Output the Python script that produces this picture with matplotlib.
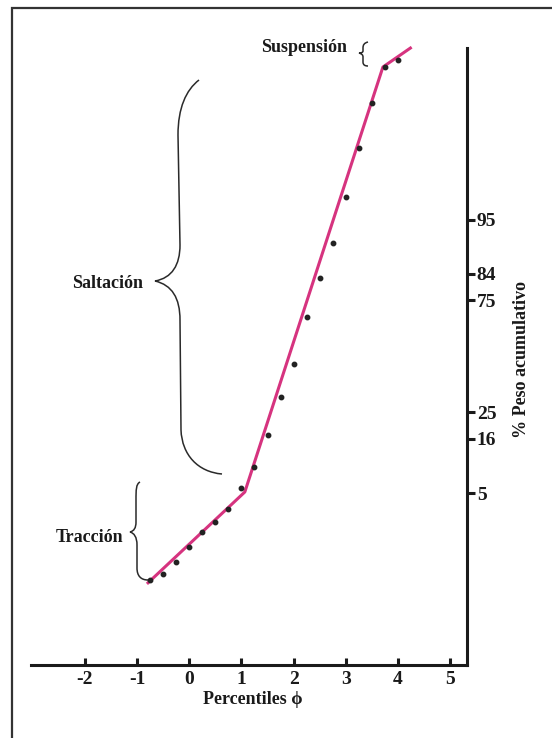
import math
import numpy as np
import matplotlib
matplotlib.use('Agg')
import matplotlib.pyplot as plt
from matplotlib.path import Path
from matplotlib.patches import PathPatch

# datos (phi, % peso acumulativo)
phi = [-0.75, -0.5, -0.25, 0.0, 0.25, 0.5, 0.75, 1.0, 1.25, 1.5,
       1.75, 2.0, 2.25, 2.5, 2.75, 3.0, 3.25, 3.5, 3.75, 4.0]
pct = [0.357, 0.442, 0.668, 1.09, 1.73, 2.31, 3.31, 5.66, 9.16, 17.2,
       31.2, 46.3, 68.2, 82.7, 91.4, 97.2, 99.39, 99.884, 99.975, 99.982]

# recta ajustada (tres tramos)
fit_phi = [-0.81, 1.065, 3.71, 4.26]
fit_pct = [0.309, 5.13, 99.975, 99.990]

pct_ticks = [5, 16, 25, 75, 84, 95]
phi_ticks = [-2, -1, 0, 1, 2, 3, 4, 5]

_erf = np.vectorize(math.erf, otypes=[float])


def pct_to_z(p):
    q = np.clip(np.asarray(p, dtype=float) / 100.0, 1e-12, 1 - 1e-12)
    lo = np.full_like(q, -8.0)
    hi = np.full_like(q, 8.0)
    for _ in range(60):
        mid = (lo + hi) / 2
        below = 0.5 * (1 + _erf(mid / np.sqrt(2))) < q
        lo = np.where(below, mid, lo)
        hi = np.where(below, hi, mid)
    return (lo + hi) / 2


def z_to_pct(z):
    return 50.0 * (1 + _erf(np.asarray(z, dtype=float) / np.sqrt(2)))


serif = ['Liberation Serif', 'DejaVu Serif']
plt.rcParams['font.family'] = serif

W, H = 552, 738
fig = plt.figure(figsize=(W / 100, H / 100), dpi=100)
ax = fig.add_axes([31 / W, 1 - 665 / H, (467 - 31) / W, (665 - 48) / H])
ax.set_yscale('function', functions=(pct_to_z, z_to_pct))

ax.plot(fit_phi, fit_pct, color='#d6337f', lw=2.2, zorder=2,
        solid_capstyle='butt', clip_on=False)
ax.plot(phi, pct, 'o', color='#222222', ms=3.2, zorder=3)

ax.set_xlim(-3.03, 5.32)
ax.set_ylim(0.0102, 99.9896)

for s in ['left', 'top']:
    ax.spines[s].set_visible(False)
for s in ['bottom', 'right']:
    ax.spines[s].set_linewidth(2.2)
    ax.spines[s].set_color('#1a1a1a')

ax.set_xticks(phi_ticks)
ax.set_xticklabels([str(t) for t in phi_ticks])
ax.tick_params(axis='x', direction='in', length=5, width=2.2, color='#1a1a1a',
               pad=4, labelsize=14)
ax.yaxis.tick_right()
ax.set_yticks(pct_ticks)
ax.set_yticklabels([str(t) for t in pct_ticks])
ax.yaxis.set_minor_locator(matplotlib.ticker.NullLocator())
ax.tick_params(axis='y', direction='out', length=6, width=2.2, color='#1a1a1a',
               pad=1, labelsize=14)
for lab in ax.get_xticklabels() + ax.get_yticklabels():
    lab.set_fontweight('bold')
    lab.set_color('#1a1a1a')
ax.patch.set_alpha(0)

# capa en pixeles para marco, llaves y rotulos
ov = fig.add_axes([0, 0, 1, 1], zorder=-1)
ov.set_xlim(0, W)
ov.set_ylim(H, 0)
ov.axis('off')

ov.plot([11.5, 11.5, W], [H, 7.5, 7.5], color='#333333', lw=1.6,
        solid_joinstyle='miter')

C4 = Path.CURVE4


def brace(start, segs):
    verts = [start]
    codes = [Path.MOVETO]
    for seg in segs:
        if len(seg) == 1:
            verts += seg
            codes += [Path.LINETO]
        else:
            verts += seg
            codes += [C4, C4, C4]
    ov.add_patch(PathPatch(Path(verts, codes), fill=False, lw=1.1,
                           edgecolor='#2a2a2a'))


brace((199, 80), [[(186, 90), (178, 108), (178, 135)], [(180, 245)],
                  [(180, 265), (172, 278), (155, 281)],
                  [(172, 285), (180, 298), (180, 320)], [(181, 430)],
                  [(182, 455), (198, 472), (222, 474)]])
brace((140, 482), [[(136, 484), (136, 490), (136, 500)], [(136, 522)],
                   [(136, 528), (134, 531), (130, 532)],
                   [(134, 533), (137, 537), (137, 545)], [(137, 568)],
                   [(137, 576), (141, 580), (148, 580)]])
brace((368, 42), [[(364, 43), (363, 45), (363, 48)], [(363, 51)],
                  [(363, 52), (362, 53), (359, 53)],
                  [(362, 54), (363, 55), (363, 57)], [(363, 62)],
                  [(363, 65), (365, 66), (368, 66)]])

txt = dict(fontsize=13, fontweight='bold', color='#1a1a1a', ha='center', va='center')
ov.text(304, 47, 'Suspensión', **txt)
ov.text(108, 284, 'Saltación', **txt)
ov.text(89, 538, 'Tracción', **txt)
ov.text(253, 700, 'Percentiles ϕ', **txt)
ov.text(522, 360, '% Peso acumulativo', rotation=90, **txt)

fig.savefig('out.png', dpi=100)
